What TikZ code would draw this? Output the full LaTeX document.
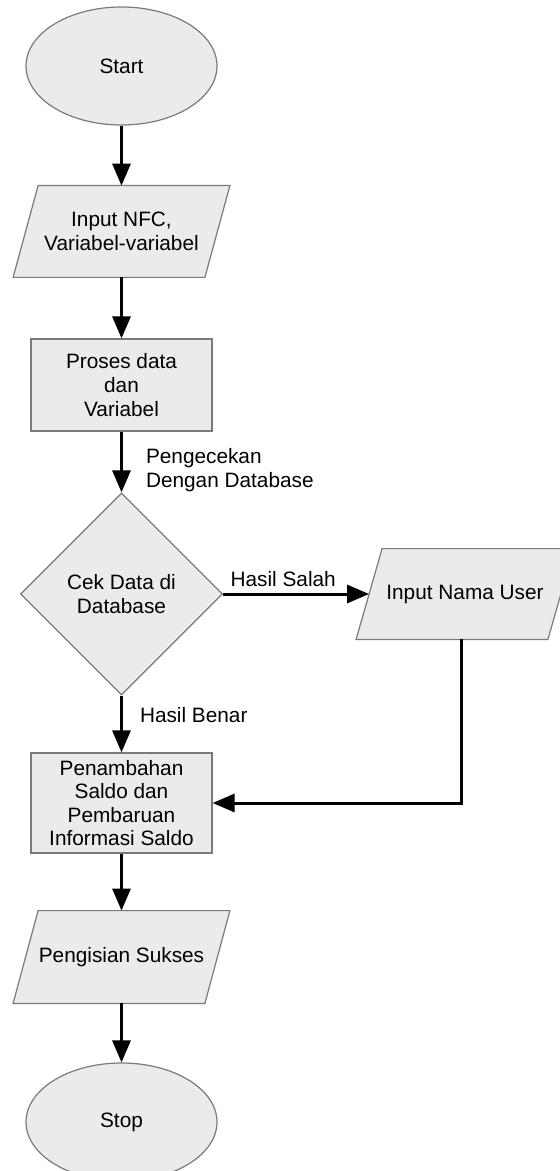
\documentclass[tikz,border=0pt]{standalone}
\usepackage{fontspec}
\setmainfont{Liberation Sans}
\usetikzlibrary{shapes.geometric,arrows.meta,calc}
\pgfdeclarelayer{background}
\pgfsetlayers{background,main}
\definecolor{boxfill}{HTML}{EBEBEB}
\definecolor{boxline}{HTML}{7A7A7A}
\tikzset{
  base/.style={draw=boxline, fill=boxfill, line width=0.6pt, align=center,
    font=\fontsize{10.4pt}{11.8pt}\selectfont, inner sep=1pt},
  terminal/.style={base, ellipse, minimum width=95.5pt, minimum height=59pt},
  % input/output: a plain rectangle carries the text and anchors,
  % the slanted outline is drawn on the background layer
  iobox/.style={rectangle, align=center, font=\fontsize{10.4pt}{11.8pt}\selectfont,
    inner sep=1pt, minimum width=95.5pt},
  ioshape/.style={draw=boxline, fill=boxfill, line width=0.6pt},
  procbox/.style={base, rectangle, minimum width=90.5pt},
  decbox/.style={base, diamond, aspect=1, minimum width=101pt, minimum height=101pt, inner sep=0pt},
  flow/.style={line width=1.5pt, -{Triangle[length=11pt,width=9pt]}},
  lbl/.style={font=\fontsize{10.4pt}{11.8pt}\selectfont, align=left, inner sep=0pt}
}
% parallelogram round a named node, slant given in picture units
\newcommand{\ioframe}[2]{%
  \begin{pgfonlayer}{background}
    \draw[ioshape] ($(#1.north west)+(#2,0)$) -- ($(#1.north east)+(#2,0)$)
      -- ($(#1.south east)-(#2,0)$) -- ($(#1.south west)-(#2,0)$) -- cycle;
  \end{pgfonlayer}}
\begin{document}
\begin{tikzpicture}[x=0.5pt, y=-0.5pt]
  \useasboundingbox (0,0) rectangle (560,1171);
  \clip (0,0) rectangle (560,1171);

  % main column
  \node[terminal] (start) at (121.5,66) {Start};
  \node[iobox, minimum height=45.5pt] (in1) at (121.5,231.5) {Input NFC,\\Variabel-variabel};
  \node[procbox, minimum height=46pt] (proc) at (121.5,385) {Proses data\\dan\\Variabel};
  \node[decbox] (dec) at (121.5,594) {Cek Data di\\Database};
  \node[procbox, minimum height=50pt] (pen) at (121.5,803) {Penambahan\\Saldo dan\\Pembaruan\\Informasi Saldo};
  \node[iobox, minimum height=46pt] (out) at (121.5,957) {Pengisian Sukses};
  \node[terminal] (stop) at (121.5,1122) {Stop};

  % branch on the right
  \node[iobox, minimum height=45pt] (in2) at (465,594) {Input Nama User};

  \ioframe{in1}{12.5}
  \ioframe{out}{12.5}
  \ioframe{in2}{13}

  % connectors
  \draw[flow] (start) -- (in1);
  \draw[flow] (in1) -- (proc);
  \draw[flow] (proc) -- node[lbl, pos=0.63, anchor=west, xshift=11.5pt] {Pengecekan\\Dengan Database} (dec);
  \draw[flow] (dec.east) -- node[lbl, pos=0, anchor=south west, xshift=3pt, yshift=3pt] {Hasil Salah} (in2.west);
  \draw[flow] (dec.south) -- node[lbl, pos=0.35, anchor=west, xshift=8.5pt] {Hasil Benar} (pen);
  \draw[flow] ([xshift=-2pt]in2.south) -- ([xshift=-2pt]in2.south |- pen.east) -- (pen.east);
  \draw[flow] (pen) -- (out);
  \draw[flow] (out) -- (stop);
\end{tikzpicture}
\end{document}
